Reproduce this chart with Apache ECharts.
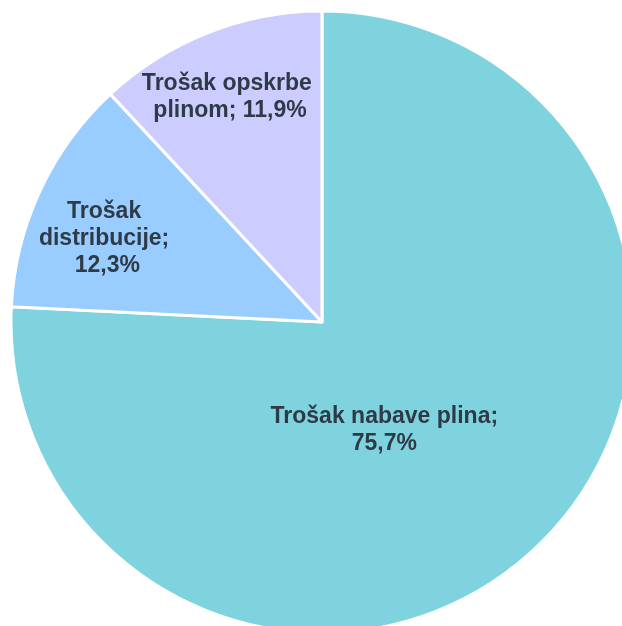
<!DOCTYPE html>
<html>
<head>
<meta charset="utf-8">
<script src="https://cdn.jsdelivr.net/npm/echarts@6/dist/echarts.min.js"></script>
<style>
html,body{margin:0;padding:0;background:#fff;}
#chart{width:622px;height:626px;}
</style>
</head>
<body>
<div id="chart"></div>
<script>
// Data
const categories = ['Trošak nabave plina', 'Trošak distribucije', 'Trošak opskrbe plinom'];
const values = [75.7, 12.3, 11.9];

// Styles
const colors = ['#7fd3de', '#99ccff', '#ccccff'];
const labelWidths = [320, 150, 200];
const labelSeparators = ['\n', ' ', ' '];
const labelShift = [[-47, -7], [-71, -16], [-34, -77]];

const chart = echarts.init(document.getElementById('chart'), null, {renderer: 'canvas'});
chart.setOption({
  animation: false,
  series: [{
    type: 'pie',
    center: [322, 322],
    radius: 311,
    startAngle: 90,
    clockwise: true,
    avoidLabelOverlap: false,
    itemStyle: {borderColor: '#ffffff', borderWidth: 3},
    label: {
      show: true,
      position: 'inside',
      fontFamily: '"Liberation Sans", Arial, sans-serif',
      fontWeight: 'bold',
      fontSize: 23,
      lineHeight: 27,
      color: '#2e3a46',
      align: 'center',
      overflow: 'break',
      formatter: p => p.name + ';' + labelSeparators[p.dataIndex] + p.value.toFixed(1).replace('.', ',') + '%'
    },
    labelLayout: p => ({dx: labelShift[p.dataIndex][0], dy: labelShift[p.dataIndex][1]}),
    emphasis: {disabled: true},
    data: categories.map((c, i) => ({
      name: c,
      value: values[i],
      itemStyle: {color: colors[i]},
      label: {width: labelWidths[i]}
    }))
  }]
});
</script>
</body>
</html>
